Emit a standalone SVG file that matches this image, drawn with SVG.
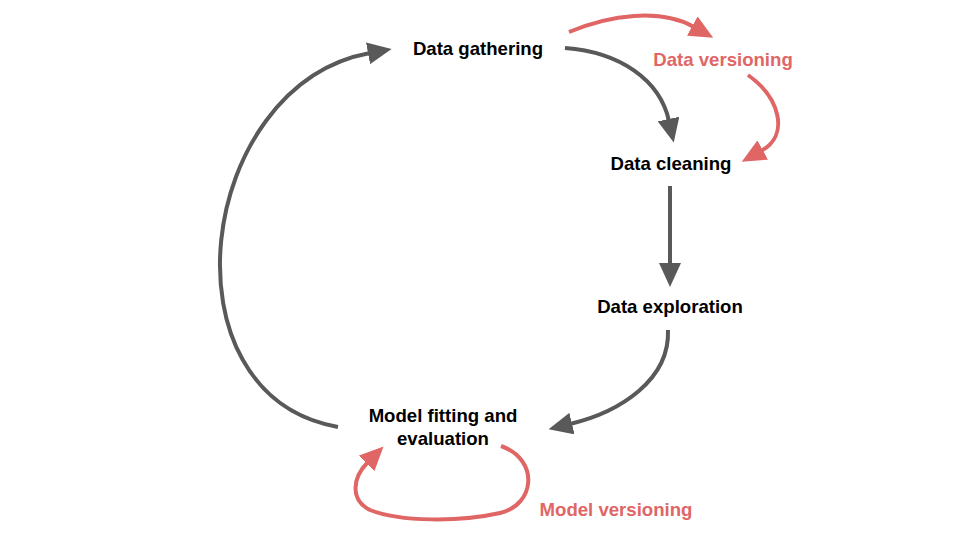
<svg xmlns="http://www.w3.org/2000/svg" width="960" height="540" viewBox="0 0 960 540">
<defs>
<style>
.t{font-family:"Liberation Sans",Arial,sans-serif;font-weight:bold;font-size:18.6px;text-anchor:middle;fill:#000}
.r{fill:#e06666}
.g{fill:none;stroke:#595959;stroke-width:4}
.rd{fill:none;stroke:#e06666;stroke-width:4}
</style>
<marker id="ag" viewBox="0 0 24 22" refX="2" refY="11" markerWidth="24" markerHeight="22" markerUnits="userSpaceOnUse" orient="auto"><path d="M0,0 L24,11 L0,22 z" fill="#595959"/></marker>
<marker id="ar" viewBox="0 0 24 22" refX="2" refY="11" markerWidth="24" markerHeight="22" markerUnits="userSpaceOnUse" orient="auto"><path d="M0,0 L24,11 L0,22 z" fill="#e06666"/></marker>
</defs>
<rect width="960" height="540" fill="#fff"/>
<g id="connectors">
<path class="g" d="M565,48 C620,52 660,80 669,121" marker-end="url(#ag)"/>
<path class="g" d="M670,186 L670,265" marker-end="url(#ag)"/>
<path class="g" d="M668,330 C670,380 620,412 570,424" marker-end="url(#ag)"/>
<path class="g" d="M338,427 C158,395 196,85 370,53" marker-end="url(#ag)"/>
<path class="rd" d="M569,32 C610,15 660,8 694,27" marker-end="url(#ar)"/>
<path class="rd" d="M748,75 C780,98 790,135 761,151" marker-end="url(#ar)"/>
<path class="rd" d="M501,446 C540,460 535,505 500,513 C460,522 400,522 370,510 C350,500 352,478 368,462" marker-end="url(#ar)"/>
</g>
<g id="gathering"><text class="t" x="478" y="55">Data gathering</text></g>
<g id="versioning"><text class="t r" x="723" y="66">Data versioning</text></g>
<g id="cleaning"><text class="t" x="671" y="170">Data cleaning</text></g>
<g id="exploration"><text class="t" x="670" y="313">Data exploration</text></g>
<g id="model"><text class="t" x="443" y="422">Model fitting and</text><text class="t" x="443" y="445">evaluation</text></g>
<g id="modelversioning"><text class="t r" x="616" y="516">Model versioning</text></g>
</svg>
